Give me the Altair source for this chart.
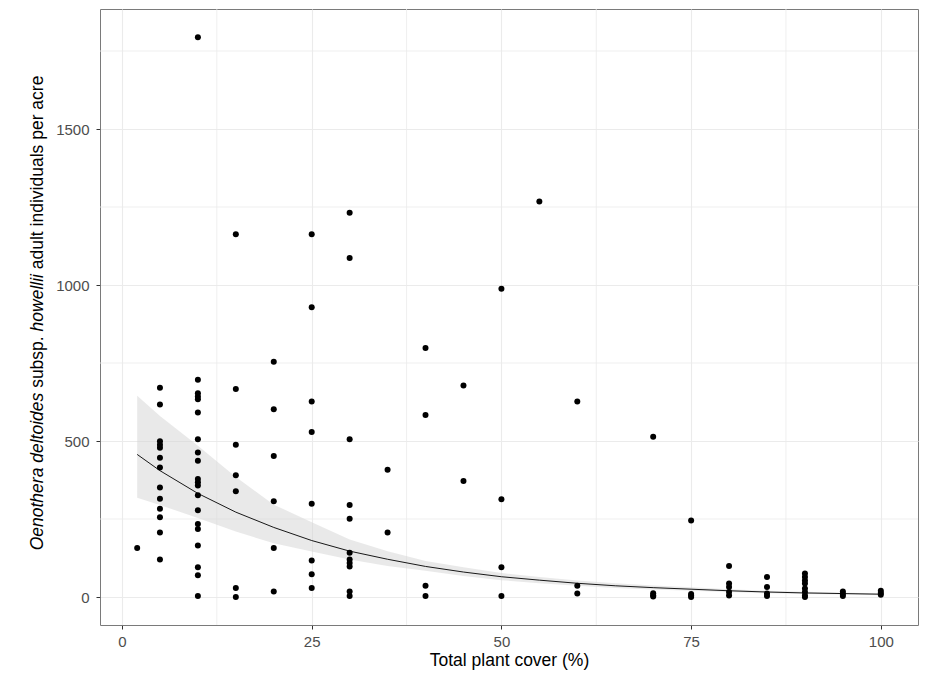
import altair as alt
import pandas as pd

# ---- observed data: adult density (individuals / acre) by total plant cover (%) ----
dens_02 = [157]
dens_05 = [671, 617, 499, 488, 478, 446, 415, 351, 315, 283, 256, 207, 120]
dens_10 = [1794, 696, 653, 643, 634, 591, 506, 463, 437, 378, 368, 357, 326, 278, 234, 218, 165, 95, 70, 3]
dens_15 = [1163, 667, 488, 390, 339, 29, 0]
dens_20 = [754, 602, 452, 307, 157, 18]
dens_25 = [1163, 929, 627, 529, 299, 117, 73, 29]
dens_30 = [1232, 1087, 506, 295, 251, 142, 120, 109, 98, 18, 3]
dens_35 = [408, 207]
dens_40 = [798, 583, 36, 3]
dens_45 = [678, 372]
dens_50 = [988, 313, 95, 3]
dens_55 = [1268]
dens_60 = [627, 36, 11]
dens_70 = [514, 12, 6, 2]
dens_75 = [245, 10, 5, 0]
dens_80 = [99, 43, 32, 16, 5]
dens_85 = [64, 32, 11, 3]
dens_90 = [75, 64, 53, 43, 27, 16, 5, 0]
dens_95 = [18, 10, 3]
dens_100 = [20, 13, 7]

cover_groups = [
    (2, dens_02), (5, dens_05), (10, dens_10), (15, dens_15), (20, dens_20),
    (25, dens_25), (30, dens_30), (35, dens_35), (40, dens_40), (45, dens_45),
    (50, dens_50), (55, dens_55), (60, dens_60), (70, dens_70), (75, dens_75),
    (80, dens_80), (85, dens_85), (90, dens_90), (95, dens_95), (100, dens_100),
]

# ---- fitted curve and confidence band ----
fit_x = [2, 5, 10, 15, 20, 25, 30, 35, 40, 45, 50, 55, 60, 65, 70, 75, 80, 85, 90, 95, 100]
fit_y = [457, 405, 332, 272, 223, 181, 147, 121, 98, 80, 65, 54, 44, 36, 30, 25, 20, 16, 13, 11, 9]
fit_lo = [318, 295, 253, 210, 172, 146, 120, 99, 84, 67, 54, 44, 36, 29, 24, 20, 16, 12, 10, 8, 6]
fit_hi = [645, 580, 485, 385, 296, 240, 184, 147, 115, 95, 77, 64, 53, 44, 37, 31, 25, 20, 17, 14, 12]

x_ticks = [0, 25, 50, 75, 100]
y_ticks = [0, 500, 1000, 1500]
minor_x = [12.5, 37.5, 62.5, 87.5]
minor_y = [250, 750, 1250, 1750]

# y-axis title pieces: (text, italic)
y_title_parts = [
    ("Oenothera deltoides ", True),
    ("subsp. ", False),
    ("howellii ", True),
    ("adult individuals per acre", False),
]

pts = pd.DataFrame(
    [{"cover": c, "density": d} for c, vals in cover_groups for d in vals]
)
fit = pd.DataFrame({"x": fit_x, "y": fit_y, "lo": fit_lo, "hi": fit_hi})

FONT = "Liberation Sans, Arial, Helvetica, sans-serif"
GRID = "#ebebeb"
W, H = 818, 616
TITLE_SIZE = 17.5
LABEL_SIZE = 15

# Liberation Sans (Arial-metric) advance widths, in 1/1000 em, for laying out the mixed-style title
ADV = {" ": 278, "O": 778, "e": 556, "n": 556, "o": 556, "t": 278, "h": 556, "r": 333,
       "a": 556, "d": 556, "l": 222, "i": 222, "s": 500, "u": 556, "b": 556, "p": 556,
       ".": 278, "w": 722, "v": 500, "c": 500}

def text_width(s, size):
    return sum(ADV.get(ch, 556) for ch in s) * size / 1000.0

xscale = alt.Scale(domain=[-2.9, 104.9], nice=False, zero=False)
yscale = alt.Scale(domain=[-89.75, 1884.75], nice=False, zero=False)

x_axis = alt.Axis(
    values=x_ticks, format="d", title="Total plant cover (%)", grid=True, gridColor=GRID, gridWidth=1.1,
    domain=False, ticks=True, tickColor="#333333", tickSize=4, tickWidth=1,
    labelPadding=5, labelFont=FONT, labelFontSize=LABEL_SIZE, labelColor="#4d4d4d",
    titleFont=FONT, titleFontSize=TITLE_SIZE, titleFontWeight="normal", titleColor="#000000",
    titlePadding=2, labelFlush=False,
)
y_axis = alt.Axis(
    values=y_ticks, format="d", title=None, grid=True, gridColor=GRID, gridWidth=1.1,
    domain=False, ticks=True, tickColor="#333333", tickSize=4, tickWidth=1,
    labelPadding=7, labelFont=FONT, labelFontSize=LABEL_SIZE, labelColor="#4d4d4d",
    labelFlush=False,
)

minor_v = alt.Chart(pd.DataFrame({"v": minor_x})).mark_rule(color=GRID, strokeWidth=0.8).encode(
    x=alt.X("v:Q", scale=xscale, axis=x_axis)
)
minor_h = alt.Chart(pd.DataFrame({"v": minor_y})).mark_rule(color=GRID, strokeWidth=0.8).encode(
    y=alt.Y("v:Q", scale=yscale, axis=y_axis)
)

band = alt.Chart(fit).mark_area(color="#d4d4d4", opacity=0.5).encode(
    x=alt.X("x:Q", scale=xscale),
    y=alt.Y("lo:Q", scale=yscale),
    y2="hi:Q",
)
line = alt.Chart(fit).mark_line(color="#000000", strokeWidth=0.9).encode(
    x=alt.X("x:Q", scale=xscale),
    y=alt.Y("y:Q", scale=yscale),
)
points = alt.Chart(pts).mark_circle(color="#000000", size=36, opacity=1).encode(
    x=alt.X("cover:Q", scale=xscale),
    y=alt.Y("density:Q", scale=yscale),
)

# lay out the rotated, mixed-style y-axis title, centred on the panel
total = sum(text_width(t, TITLE_SIZE) for t, _ in y_title_parts)
start = H / 2 - 4 + total / 2
title_layers = []
for txt, italic in y_title_parts:
    title_layers.append(
        alt.Chart(pd.DataFrame({"t": [txt.strip()]})).mark_text(
            angle=270, align="left", baseline="alphabetic", font=FONT, fontSize=TITLE_SIZE,
            fontStyle="italic" if italic else "normal", color="#000000",
        ).encode(x=alt.value(-57), y=alt.value(start), text="t:N")
    )
    start -= text_width(txt, TITLE_SIZE)

chart = alt.layer(minor_v, minor_h, band, line, points, *title_layers).properties(
    width=W, height=H,
    autosize=alt.AutoSizeParams(type="none"),
    padding={"left": 92, "top": 1, "right": 2, "bottom": 52},
).configure(
    background="white",
    view=alt.ViewConfig(stroke="#7a7a7a", strokeWidth=1),
)

chart.save("out.html", embed_options={"renderer": "svg", "actions": False})
